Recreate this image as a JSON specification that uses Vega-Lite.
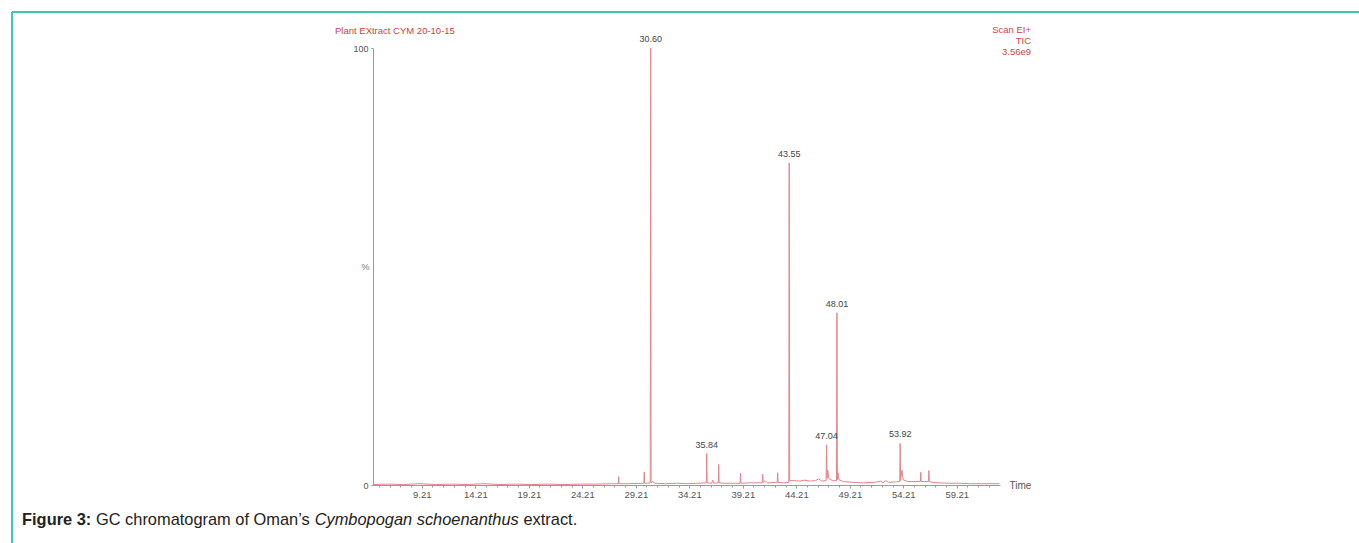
{
  "$schema": "https://vega.github.io/schema/vega-lite/v6.json",
  "width": 627,
  "height": 437,
  "autosize": {"type": "none"},
  "padding": {"left": 373, "top": 48, "right": 359, "bottom": 58},
  "background": "white",
  "config": {"view": {"stroke": null}, "font": "Liberation Sans"},
  "resolve": {"axis": {"x": "independent"}},
  "datasets": {
    "trace": [
      {"t": 4.70, "v": 0.1}, {"t": 6.0, "v": 0.2}, {"t": 7.5, "v": 0.1}, {"t": 9.0, "v": 0.3},
      {"t": 10.5, "v": 0.1}, {"t": 12.0, "v": 0.2}, {"t": 13.5, "v": 0.1}, {"t": 15.0, "v": 0.3},
      {"t": 16.5, "v": 0.1}, {"t": 18.0, "v": 0.2}, {"t": 19.5, "v": 0.1}, {"t": 21.0, "v": 0.2},
      {"t": 22.5, "v": 0.1}, {"t": 24.0, "v": 0.2}, {"t": 25.5, "v": 0.2}, {"t": 27.0, "v": 0.3},
      {"t": 27.57, "v": 0.3}, {"t": 27.61, "v": 1.9}, {"t": 27.65, "v": 0.3}, {"t": 28.5, "v": 0.3},
      {"t": 29.96, "v": 0.4}, {"t": 30.0, "v": 3.0}, {"t": 30.04, "v": 0.4}, {"t": 30.3, "v": 0.4},
      {"t": 30.56, "v": 0.5}, {"t": 30.60, "v": 100}, {"t": 30.64, "v": 0.5}, {"t": 30.8, "v": 0.8},
      {"t": 31.0, "v": 0.4}, {"t": 32.0, "v": 0.3}, {"t": 33.0, "v": 0.4}, {"t": 34.0, "v": 0.3},
      {"t": 35.0, "v": 0.4}, {"t": 35.80, "v": 0.5}, {"t": 35.84, "v": 7.2}, {"t": 35.88, "v": 0.5},
      {"t": 36.3, "v": 0.4}, {"t": 36.4, "v": 1.1}, {"t": 36.5, "v": 0.4}, {"t": 36.92, "v": 0.5},
      {"t": 36.96, "v": 4.7}, {"t": 37.0, "v": 0.5}, {"t": 37.5, "v": 0.4}, {"t": 38.5, "v": 0.4},
      {"t": 38.96, "v": 0.4}, {"t": 39.0, "v": 2.7}, {"t": 39.04, "v": 0.4}, {"t": 40.0, "v": 0.5},
      {"t": 41.03, "v": 0.5}, {"t": 41.07, "v": 2.5}, {"t": 41.11, "v": 0.6}, {"t": 41.3, "v": 1.0},
      {"t": 41.5, "v": 0.5}, {"t": 42.43, "v": 0.6}, {"t": 42.47, "v": 2.8}, {"t": 42.51, "v": 0.6},
      {"t": 43.0, "v": 0.5}, {"t": 43.51, "v": 0.6}, {"t": 43.55, "v": 73.7}, {"t": 43.59, "v": 1.0},
      {"t": 44.0, "v": 1.0}, {"t": 44.5, "v": 0.9}, {"t": 45.0, "v": 1.1}, {"t": 45.5, "v": 0.9},
      {"t": 46.0, "v": 1.0}, {"t": 46.3, "v": 1.4}, {"t": 46.6, "v": 0.9}, {"t": 47.0, "v": 1.0},
      {"t": 47.04, "v": 9.2}, {"t": 47.08, "v": 1.5}, {"t": 47.15, "v": 3.4}, {"t": 47.25, "v": 1.5},
      {"t": 47.6, "v": 1.0}, {"t": 47.97, "v": 1.0}, {"t": 48.01, "v": 39.4}, {"t": 48.05, "v": 1.2},
      {"t": 48.1, "v": 2.8}, {"t": 48.2, "v": 1.2}, {"t": 48.6, "v": 0.8}, {"t": 49.5, "v": 0.6},
      {"t": 50.5, "v": 0.5}, {"t": 51.5, "v": 0.6}, {"t": 52.1, "v": 0.9}, {"t": 52.3, "v": 0.5},
      {"t": 52.6, "v": 1.0}, {"t": 52.8, "v": 0.6}, {"t": 53.5, "v": 0.7}, {"t": 53.88, "v": 0.8},
      {"t": 53.92, "v": 9.5}, {"t": 53.96, "v": 1.0}, {"t": 54.08, "v": 3.4}, {"t": 54.2, "v": 1.2},
      {"t": 54.6, "v": 0.8}, {"t": 55.2, "v": 0.8}, {"t": 55.81, "v": 0.8}, {"t": 55.85, "v": 2.9},
      {"t": 55.89, "v": 0.8}, {"t": 56.2, "v": 0.8}, {"t": 56.56, "v": 0.8}, {"t": 56.6, "v": 3.3},
      {"t": 56.64, "v": 0.8}, {"t": 57.0, "v": 0.6}, {"t": 57.5, "v": 0.5}, {"t": 58.5, "v": 0.4},
      {"t": 59.5, "v": 0.4}, {"t": 60.5, "v": 0.3}, {"t": 61.5, "v": 0.3}, {"t": 62.5, "v": 0.3},
      {"t": 63.2, "v": 0.3}
    ],
    "peaks": [
      {"t": 30.60, "v": 100, "label": "30.60"},
      {"t": 35.84, "v": 7.2, "label": "35.84"},
      {"t": 43.55, "v": 73.7, "label": "43.55"},
      {"t": 47.04, "v": 9.2, "label": "47.04"},
      {"t": 48.01, "v": 39.4, "label": "48.01"},
      {"t": 53.92, "v": 9.5, "label": "53.92"}
    ],
    "border": [
      {"x1": -29.09, "x2": 100, "y1": 108.24, "y2": 108.24},
      {"x1": -29.09, "x2": -29.09, "y1": 108.24, "y2": -20}
    ],
    "headLeft": [{"t": 1.1, "v": 103.2, "text": "Plant EXtract CYM 20-10-15"}],
    "headRight": [
      {"t": 66.15, "v": 103.4, "text": "Scan EI+"},
      {"t": 66.15, "v": 100.9, "text": "TIC"},
      {"t": 66.15, "v": 98.4, "text": "3.56e9"}
    ],
    "cap1": [{"t": -28.15, "v": -9.15, "text": "Figure 3:"}],
    "cap2": [{"t": -28.15, "v": -9.15, "text": "GC chromatogram of Oman’s"}],
    "cap3": [{"t": -28.15, "v": -9.15, "text": "Cymbopogan schoenanthus"}],
    "cap4": [{"t": -28.15, "v": -9.15, "text": "extract."}]
  },
  "layer": [
    {
      "data": {"name": "trace"},
      "mark": {"type": "line", "color": "#e5848b", "strokeWidth": 1, "clip": false},
      "encoding": {
        "x": {
          "field": "t", "type": "quantitative",
          "scale": {"domain": [4.65, 63.25], "nice": false, "zero": false},
          "axis": {
            "orient": "bottom",
            "values": [9.21, 14.21, 19.21, 24.21, 29.21, 34.21, 39.21, 44.21, 49.21, 54.21, 59.21],
            "format": ".2f",
            "tickSize": 3,
            "grid": false,
            "domainColor": "#9a9a9a",
            "tickColor": "#9a9a9a",
            "labelColor": "#555555",
            "labelFontSize": 9.5,
            "labelPadding": 1,
            "labelFlush": false,
            "labelOverlap": false,
            "title": "Time",
            "titleFontSize": 10,
            "titleFontWeight": "normal",
            "titleColor": "#555555",
            "titleX": 636,
            "titleY": 0,
            "titleAlign": "left",
            "titleBaseline": "middle",
            "titleAnchor": null
          }
        },
        "y": {
          "field": "v", "type": "quantitative",
          "scale": {"domain": [0, 100], "nice": false},
          "axis": {
            "values": [0, 100],
            "grid": false,
            "domainColor": "#9a9a9a",
            "tickColor": "#9a9a9a",
            "tickSize": 2,
            "labelColor": "#555555",
            "labelFontSize": 9,
            "labelPadding": 3,
            "title": "%",
            "titleAngle": 0,
            "titleFontSize": 9,
            "titleFontWeight": "normal",
            "titleColor": "#777777",
            "titleX": -8,
            "titleY": 218,
            "titleAlign": "center",
            "titleBaseline": "middle"
          }
        }
      }
    },
    {
      "data": {"name": "border"},
      "mark": {"type": "rule", "color": "#3cc8b0", "strokeWidth": 2, "clip": false},
      "encoding": {
        "x": {
          "field": "x1", "type": "quantitative", "scale": {"domain": [4.65, 63.25]},
          "axis": {
            "orient": "bottom",
            "values": [5.21,6.21,7.21,8.21,10.21,11.21,12.21,13.21,15.21,16.21,17.21,18.21,20.21,21.21,22.21,23.21,25.21,26.21,27.21,28.21,30.21,31.21,32.21,33.21,35.21,36.21,37.21,38.21,40.21,41.21,42.21,43.21,45.21,46.21,47.21,48.21,50.21,51.21,52.21,53.21,55.21,56.21,57.21,58.21,60.21,61.21,62.21],
            "labels": false,
            "domain": false,
            "grid": false,
            "tickSize": 2,
            "tickColor": "#9a9a9a",
            "title": null
          }
        },
        "x2": {"field": "x2"},
        "y": {"field": "y1", "type": "quantitative", "scale": {"domain": [0, 100]}},
        "y2": {"field": "y2"}
      }
    },
    {
      "data": {"name": "peaks"},
      "mark": {"type": "text", "fontSize": 9, "color": "#444444", "baseline": "bottom", "dy": -4, "clip": false},
      "encoding": {
        "x": {"field": "t", "type": "quantitative", "scale": {"domain": [4.65, 63.25]}, "axis": null},
        "y": {"field": "v", "type": "quantitative", "scale": {"domain": [0, 100]}},
        "text": {"field": "label"}
      }
    },
    {
      "data": {"name": "headLeft"},
      "mark": {"type": "text", "fontSize": 9.5, "color": "#cf3f46", "align": "left", "baseline": "alphabetic", "clip": false},
      "encoding": {
        "x": {"field": "t", "type": "quantitative", "scale": {"domain": [4.65, 63.25]}, "axis": null},
        "y": {"field": "v", "type": "quantitative", "scale": {"domain": [0, 100]}},
        "text": {"field": "text"}
      }
    },
    {
      "data": {"name": "headRight"},
      "mark": {"type": "text", "fontSize": 9.5, "color": "#cf3f46", "align": "right", "baseline": "alphabetic", "clip": false},
      "encoding": {
        "x": {"field": "t", "type": "quantitative", "scale": {"domain": [4.65, 63.25]}, "axis": null},
        "y": {"field": "v", "type": "quantitative", "scale": {"domain": [0, 100]}},
        "text": {"field": "text"}
      }
    },
    {
      "data": {"name": "cap1"},
      "mark": {"type": "text", "fontSize": 16.4, "fontWeight": "bold", "color": "#222222", "align": "left", "baseline": "alphabetic", "clip": false},
      "encoding": {
        "x": {"field": "t", "type": "quantitative", "scale": {"domain": [4.65, 63.25]}, "axis": null},
        "y": {"field": "v", "type": "quantitative", "scale": {"domain": [0, 100]}},
        "text": {"field": "text"}
      }
    },
    {
      "data": {"name": "cap2"},
      "mark": {"type": "text", "fontSize": 16.4, "color": "#222222", "align": "left", "baseline": "alphabetic", "dx": 73.9, "clip": false},
      "encoding": {
        "x": {"field": "t", "type": "quantitative", "scale": {"domain": [4.65, 63.25]}, "axis": null},
        "y": {"field": "v", "type": "quantitative", "scale": {"domain": [0, 100]}},
        "text": {"field": "text"}
      }
    },
    {
      "data": {"name": "cap3"},
      "mark": {"type": "text", "fontSize": 16.4, "fontStyle": "italic", "color": "#222222", "align": "left", "baseline": "alphabetic", "dx": 292.6, "clip": false},
      "encoding": {
        "x": {"field": "t", "type": "quantitative", "scale": {"domain": [4.65, 63.25]}, "axis": null},
        "y": {"field": "v", "type": "quantitative", "scale": {"domain": [0, 100]}},
        "text": {"field": "text"}
      }
    },
    {
      "data": {"name": "cap4"},
      "mark": {"type": "text", "fontSize": 16.4, "color": "#222222", "align": "left", "baseline": "alphabetic", "dx": 501.4, "clip": false},
      "encoding": {
        "x": {"field": "t", "type": "quantitative", "scale": {"domain": [4.65, 63.25]}, "axis": null},
        "y": {"field": "v", "type": "quantitative", "scale": {"domain": [0, 100]}},
        "text": {"field": "text"}
      }
    }
  ]
}
